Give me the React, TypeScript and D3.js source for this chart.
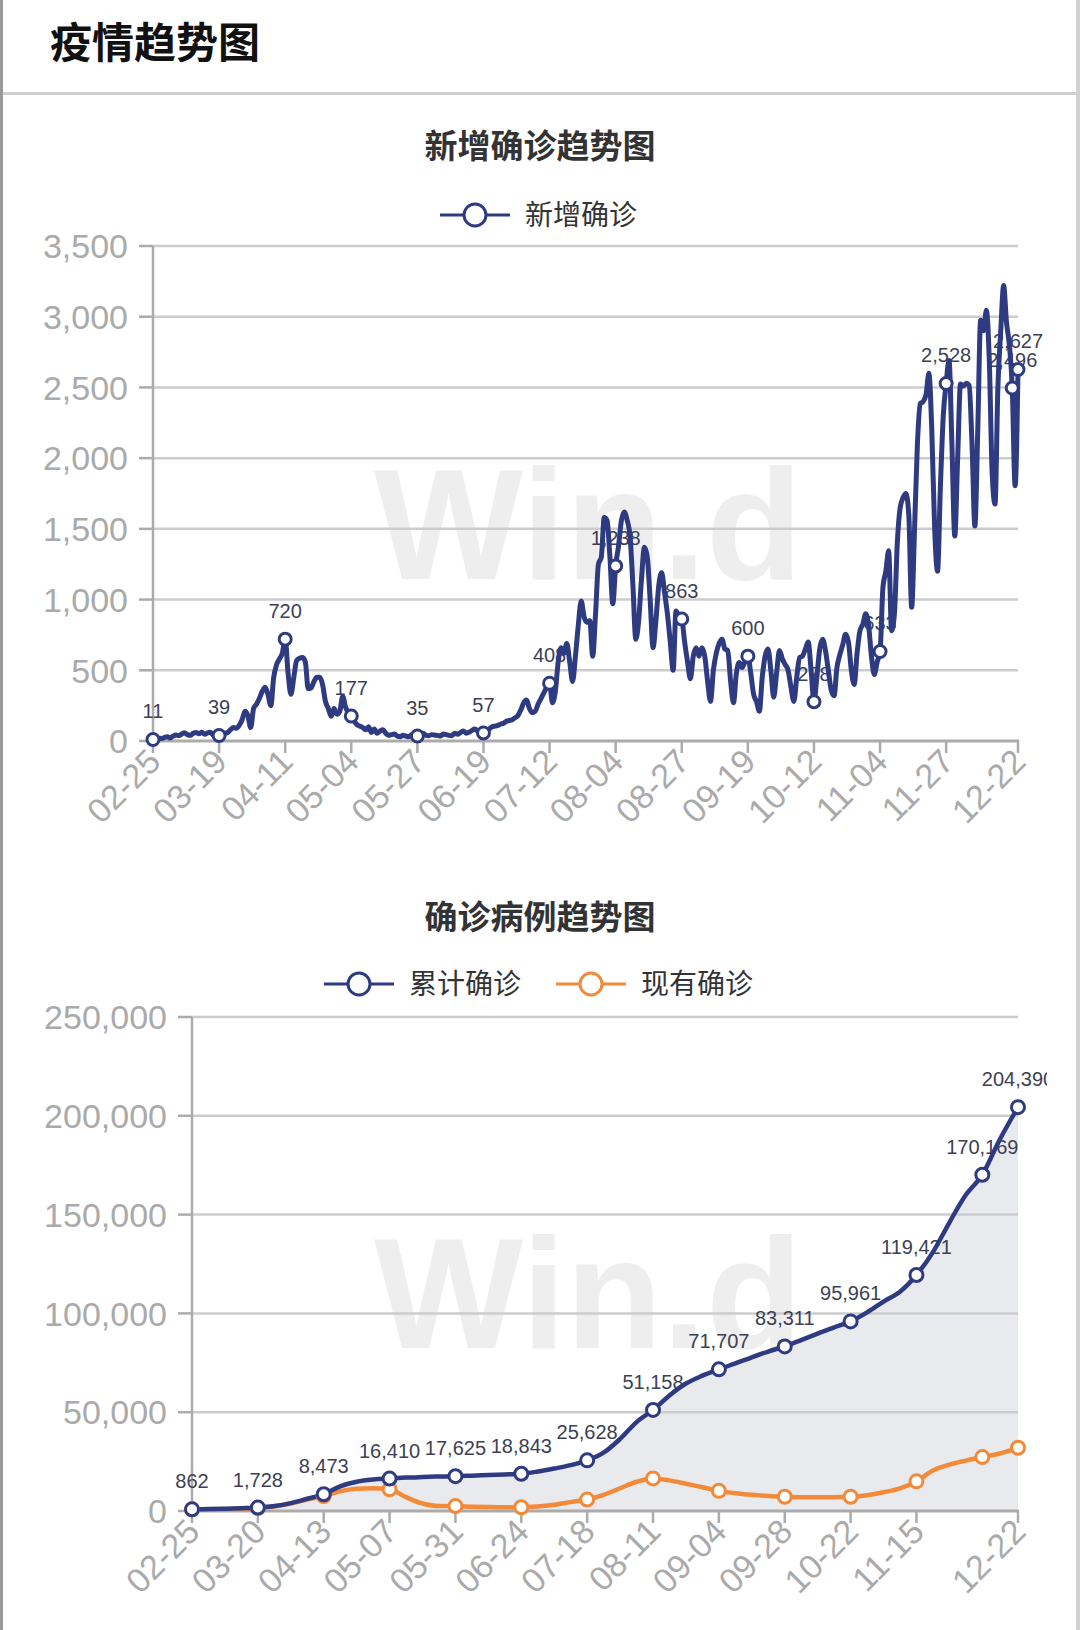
import React from "react";
import * as d3 from "d3";

// ---------------- DATA ----------------
const START_DATE = "2020-02-25";

// daily new confirmed cases (02-25 .. 12-22)
const newCases: number[] = [
  // 02-25 .. 03-18
  11, 14, 20, 18, 25, 30, 22, 35, 42, 38, 50, 58, 45, 40, 55, 60, 52, 62, 48, 58, 62, 40, 30,
  // 03-19 .. 04-10
  39, 45, 55, 60, 80, 95, 90, 110, 150, 210, 180, 95, 230, 260, 300, 350, 380, 330, 250, 450, 540, 580, 620,
  // 04-11 .. 05-03
  720, 480, 330, 450, 570, 585, 590, 560, 370, 375, 420, 450, 450, 400, 280, 230, 175, 230, 190, 210, 315, 240, 200,
  // 05-04 .. 05-26
  177, 140, 115, 105, 95, 80, 100, 60, 85, 55, 70, 80, 55, 40, 45, 50, 35, 30, 40, 35, 30, 45, 42,
  // 05-27 .. 06-18
  35, 52, 55, 40, 38, 45, 42, 40, 35, 50, 45, 40, 38, 55, 48, 60, 70, 55, 62, 75, 85, 68, 50,
  // 06-19 .. 07-11
  57, 70, 85, 100, 105, 110, 120, 125, 140, 145, 150, 165, 180, 220, 270, 290, 230, 200, 210, 260, 300, 340, 380,
  // 07-12 .. 08-03
  408, 270, 350, 560, 660, 620, 690, 560, 420, 600, 820, 990, 880, 840, 850, 600, 900, 1250, 1300, 1580, 1560, 1300, 970,
  // 08-04 .. 08-26
  1238, 1380, 1560, 1620, 1560, 1450, 1100, 720, 850, 1150, 1370, 1300, 1000, 660, 850, 1100, 1190, 1050, 900, 700, 500, 920, 880,
  // 08-27 .. 09-18
  863, 700, 560, 440, 600, 660, 600, 660, 600, 420, 280, 500, 620, 690, 720, 650, 640, 420, 270, 480, 555, 520, 560,
  // 09-19 .. 10-11
  600, 480, 330, 280, 210, 450, 600, 650, 500, 310, 480, 640, 580, 540, 500, 380, 280, 450, 590, 600, 650, 700, 500,
  // 10-12 .. 11-03
  278, 450, 650, 720, 640, 500, 360, 320, 520, 610, 680, 755, 700, 500, 400, 620, 780, 825, 900, 820, 600, 470, 560,
  // 11-04 .. 11-26
  633, 1085, 1200, 1345, 780, 900, 1400, 1650, 1720, 1750, 1600, 945, 1500, 2100, 2385, 2400, 2450, 2600, 2200, 1500, 1200, 1800, 2300,
  // 11-27 .. 12-19
  2528, 2690, 2100, 1450, 2000, 2525, 2510, 2530, 2515, 2100, 1520, 2200, 2975, 2900, 3045, 2700, 1900, 1675, 2500, 2900, 3220, 2960, 2800,
  // 12-20 .. 12-22
  2496, 1805, 2627,
];
const NEW_LABEL_STEP = 23;

// cumulative / active cases, sampled every 6 days from 02-25 (to 12-16), plus 12-22
const CASE_SAMPLE_STEP = 6;
const cumulative: number[] = [
  862, 1000, 1150, 1400, 1728, 2500, 4000, 6200, 8473, 12500, 14800, 15900, 16410,
  16900, 17200, 17450, 17625, 17900, 18200, 18500, 18843, 20000, 21500, 23200, 25628,
  29500, 36500, 45000, 51158, 58500, 64500, 68500, 71707, 74700, 77800, 80700, 83311,
  86500, 89800, 92900, 95961, 100500, 106000, 111000, 119421, 131000, 146000, 160000,
  170169, 187000, 204390,
];
const active: number[] = [
  800, 900, 1000, 1200, 1500, 2300, 3800, 5800, 7600, 10000, 11200, 11500, 11000,
  7000, 3800, 2500, 2500, 2200, 2000, 1900, 1900, 2300, 3200, 4500, 5800,
  8200, 11500, 14800, 16500, 15500, 13800, 12000, 10200, 9000, 8200, 7600, 7200,
  7000, 7000, 7000, 7200, 8000, 9500, 11500, 15000, 20500, 23500, 25500,
  27300, 29000, 32000,
];
const CASE_LABEL_STEP = 24;

const topYTicks = [0, 500, 1000, 1500, 2000, 2500, 3000, 3500];
const bottomYTicks = [0, 50000, 100000, 150000, 200000, 250000];

const pageTitle = "疫情趋势图";
const topTitle = "新增确诊趋势图";
const topLegend = ["新增确诊"];
const bottomTitle = "确诊病例趋势图";
const bottomLegend = ["累计确诊", "现有确诊"];
const watermark = "Win.d";

// ---------------- STYLE ----------------
const NAVY = "#2f3b80";
const ORANGE = "#f28a3a";
const AXIS = "#ababab";
const GRID = "#cccccc";
const LABEL = "#3c3f55";
const NUMFONT = "'Liberation Sans', Arial, Helvetica, sans-serif";
const CJK = "'Noto Sans CJK SC', 'Noto Sans', sans-serif";

const fmt = d3.format(",");
const parse = d3.timeParse("%Y-%m-%d");
const dayLabel = d3.timeFormat("%m-%d");
const nDays = newCases.length;
const dates = d3.range(nDays).map((i) => d3.timeDay.offset(parse(START_DATE) as Date, i));
const dateLabels = dates.map((d) => dayLabel(d));

function tickIndices(step: number) {
  const t = d3.range(0, nDays, step).filter((i) => nDays - 1 - i >= step * 0.7);
  t.push(nDays - 1);
  return t;
}
function markerIndices(step: number) {
  const t = d3.range(0, nDays, step);
  if (t[t.length - 1] !== nDays - 1) t.push(nDays - 1);
  return t;
}

type AxisProps = {
  x: d3.ScaleLinear<number, number>;
  y: d3.ScaleLinear<number, number>;
  yTicks: number[];
  xTicks: number[];
};

function Axes({ x, y, yTicks, xTicks }: AxisProps) {
  const [x0, x1] = x.range();
  const y0 = y(0);
  const yTop = y(yTicks[yTicks.length - 1]);
  return (
    <g>
      {yTicks.filter((t) => t > 0).map((t) => (
        <line key={"g" + t} x1={x0} x2={x1} y1={y(t)} y2={y(t)} stroke={GRID} strokeWidth={2.5} />
      ))}
      <line x1={x0} x2={x0} y1={yTop} y2={y0} stroke={AXIS} strokeWidth={2.5} />
      <line x1={x0} x2={x1 + 1} y1={y0} y2={y0} stroke={AXIS} strokeWidth={3} />
      {yTicks.map((t) => (
        <g key={"y" + t}>
          <line x1={x0 - 14} x2={x0} y1={y(t)} y2={y(t)} stroke={AXIS} strokeWidth={2.5} />
          <text x={x0 - 25} y={y(t)} dy="0.36em" textAnchor="end" fontSize={34} fill="#aaaaaa" fontFamily={NUMFONT}>
            {fmt(t)}
          </text>
        </g>
      ))}
      {xTicks.map((i) => (
        <g key={"x" + i}>
          <line x1={x(i)} x2={x(i)} y1={y0} y2={y0 + 12} stroke={AXIS} strokeWidth={2.5} />
          <text
            transform={`translate(${x(i) + 1},${y0 + 14}) rotate(-45)`}
            dy="0.36em"
            textAnchor="end"
            fontSize={34}
            fill="#aaaaaa"
            fontFamily={NUMFONT}
          >
            {dateLabels[i]}
          </text>
        </g>
      ))}
    </g>
  );
}

function LegendItem({ x, y, color, label }: { x: number; y: number; color: string; label: string }) {
  return (
    <g>
      <line x1={x} x2={x + 70} y1={y} y2={y} stroke={color} strokeWidth={3} />
      <circle cx={x + 35} cy={y} r={11} fill="#fff" stroke={color} strokeWidth={3} />
      <text x={x + 85} y={y} dy="0.36em" fontSize={28} fill="#333" fontFamily={CJK}>
        {label}
      </text>
    </g>
  );
}

function Watermark({ y }: { y: number }) {
  return (
    <text x={374} y={y} fontSize={158} fontWeight={700} fill="#eeeeee" fontFamily={NUMFONT}>
      {watermark}
    </text>
  );
}

function TopChart() {
  const x = d3.scaleLinear().domain([0, nDays - 1]).range([153, 1018]);
  const y = d3.scaleLinear().domain([0, 3500]).range([741, 246]);
  const line = d3
    .line<number>()
    .x((_, i) => x(i))
    .y((d) => y(d))
    .curve(d3.curveMonotoneX);
  const marks = markerIndices(NEW_LABEL_STEP);
  return (
    <g>
      <text x={540} y={146} dy="0.36em" textAnchor="middle" fontSize={33} fontWeight={700} fill="#333" fontFamily={CJK}>
        {topTitle}
      </text>
      <LegendItem x={440} y={215} color={NAVY} label={topLegend[0]} />
      <Watermark y={579} />
      <Axes x={x} y={y} yTicks={topYTicks} xTicks={tickIndices(NEW_LABEL_STEP)} />
      <g clipPath="url(#labelClip)">
        {marks.map((i) => (
          <text
            key={"l" + i}
            x={x(i)}
            y={y(newCases[i]) - 21}
            textAnchor="middle"
            fontSize={20}
            fill={LABEL}
            fontFamily={NUMFONT}
          >
            {fmt(newCases[i])}
          </text>
        ))}
      </g>
      <path d={line(newCases) || ""} fill="none" stroke={NAVY} strokeWidth={5} strokeLinejoin="round" />
      {marks.map((i) => (
        <circle key={"m" + i} cx={x(i)} cy={y(newCases[i])} r={6} fill="#fff" stroke={NAVY} strokeWidth={3} />
      ))}
    </g>
  );
}

function BottomChart() {
  const x = d3.scaleLinear().domain([0, nDays - 1]).range([192, 1018]);
  const y = d3.scaleLinear().domain([0, 250000]).range([1511, 1017]);
  const days = d3.range(cumulative.length - 1).map((k) => k * CASE_SAMPLE_STEP);
  days.push(nDays - 1);
  const cumPts = days.map((d, k) => ({ d, v: cumulative[k] }));
  const actPts = days.map((d, k) => ({ d, v: active[k] }));
  const line = d3
    .line<{ d: number; v: number }>()
    .x((p) => x(p.d))
    .y((p) => y(p.v))
    .curve(d3.curveMonotoneX);
  const area = d3
    .area<{ d: number; v: number }>()
    .x((p) => x(p.d))
    .y0(y(0))
    .y1((p) => y(p.v))
    .curve(d3.curveMonotoneX);
  const isMark = (p: { d: number }) => p.d % CASE_LABEL_STEP === 0 || p.d === nDays - 1;
  const cumMarks = cumPts.filter(isMark);
  const actMarks = actPts.filter(isMark);
  return (
    <g>
      <text x={540} y={917} dy="0.36em" textAnchor="middle" fontSize={33} fontWeight={700} fill="#333" fontFamily={CJK}>
        {bottomTitle}
      </text>
      <LegendItem x={324} y={984} color={NAVY} label={bottomLegend[0]} />
      <LegendItem x={556} y={984} color={ORANGE} label={bottomLegend[1]} />
      <Watermark y={1348} />
      <path d={area(cumPts) || ""} fill="#e4e5ea" fillOpacity={0.8} />
      <Axes x={x} y={y} yTicks={bottomYTicks} xTicks={tickIndices(CASE_LABEL_STEP)} />
      <g clipPath="url(#labelClip)">
        {cumMarks.map((p) => (
          <text
            key={"l" + p.d}
            x={x(p.d)}
            y={y(p.v) - 21}
            textAnchor="middle"
            fontSize={20}
            fill={LABEL}
            fontFamily={NUMFONT}
          >
            {fmt(p.v)}
          </text>
        ))}
      </g>
      <path d={line(actPts) || ""} fill="none" stroke={ORANGE} strokeWidth={4.5} strokeLinejoin="round" />
      <path d={line(cumPts) || ""} fill="none" stroke={NAVY} strokeWidth={4.5} strokeLinejoin="round" />
      {actMarks.map((p) => (
        <circle key={"a" + p.d} cx={x(p.d)} cy={y(p.v)} r={6.5} fill="#fff" stroke={ORANGE} strokeWidth={3} />
      ))}
      {cumMarks.map((p) => (
        <circle key={"c" + p.d} cx={x(p.d)} cy={y(p.v)} r={6.5} fill="#fff" stroke={NAVY} strokeWidth={3} />
      ))}
    </g>
  );
}

export default function App() {
  return (
    <div style={{ position: "absolute", left: 0, top: 0, width: 1080, height: 1630 }}>
      <svg width={1080} height={1630} style={{ display: "block" }}>
        <defs>
          <clipPath id="labelClip">
            <rect x={0} y={0} width={1047} height={1630} />
          </clipPath>
        </defs>
        <rect x={0} y={0} width={1080} height={1630} fill="#fff" />
        <text x={50} y={58} fontSize={42} fontWeight={700} fill="#111" fontFamily={CJK}>
          {pageTitle}
        </text>
        <rect x={0} y={92} width={1080} height={3} fill="#cfcfcf" />
        <TopChart />
        <BottomChart />
        <rect x={0} y={0} width={3} height={1630} fill="#9a9a9a" />
        <rect x={1076} y={0} width={4} height={1630} fill="#d0d0d0" />
      </svg>
    </div>
  );
}
